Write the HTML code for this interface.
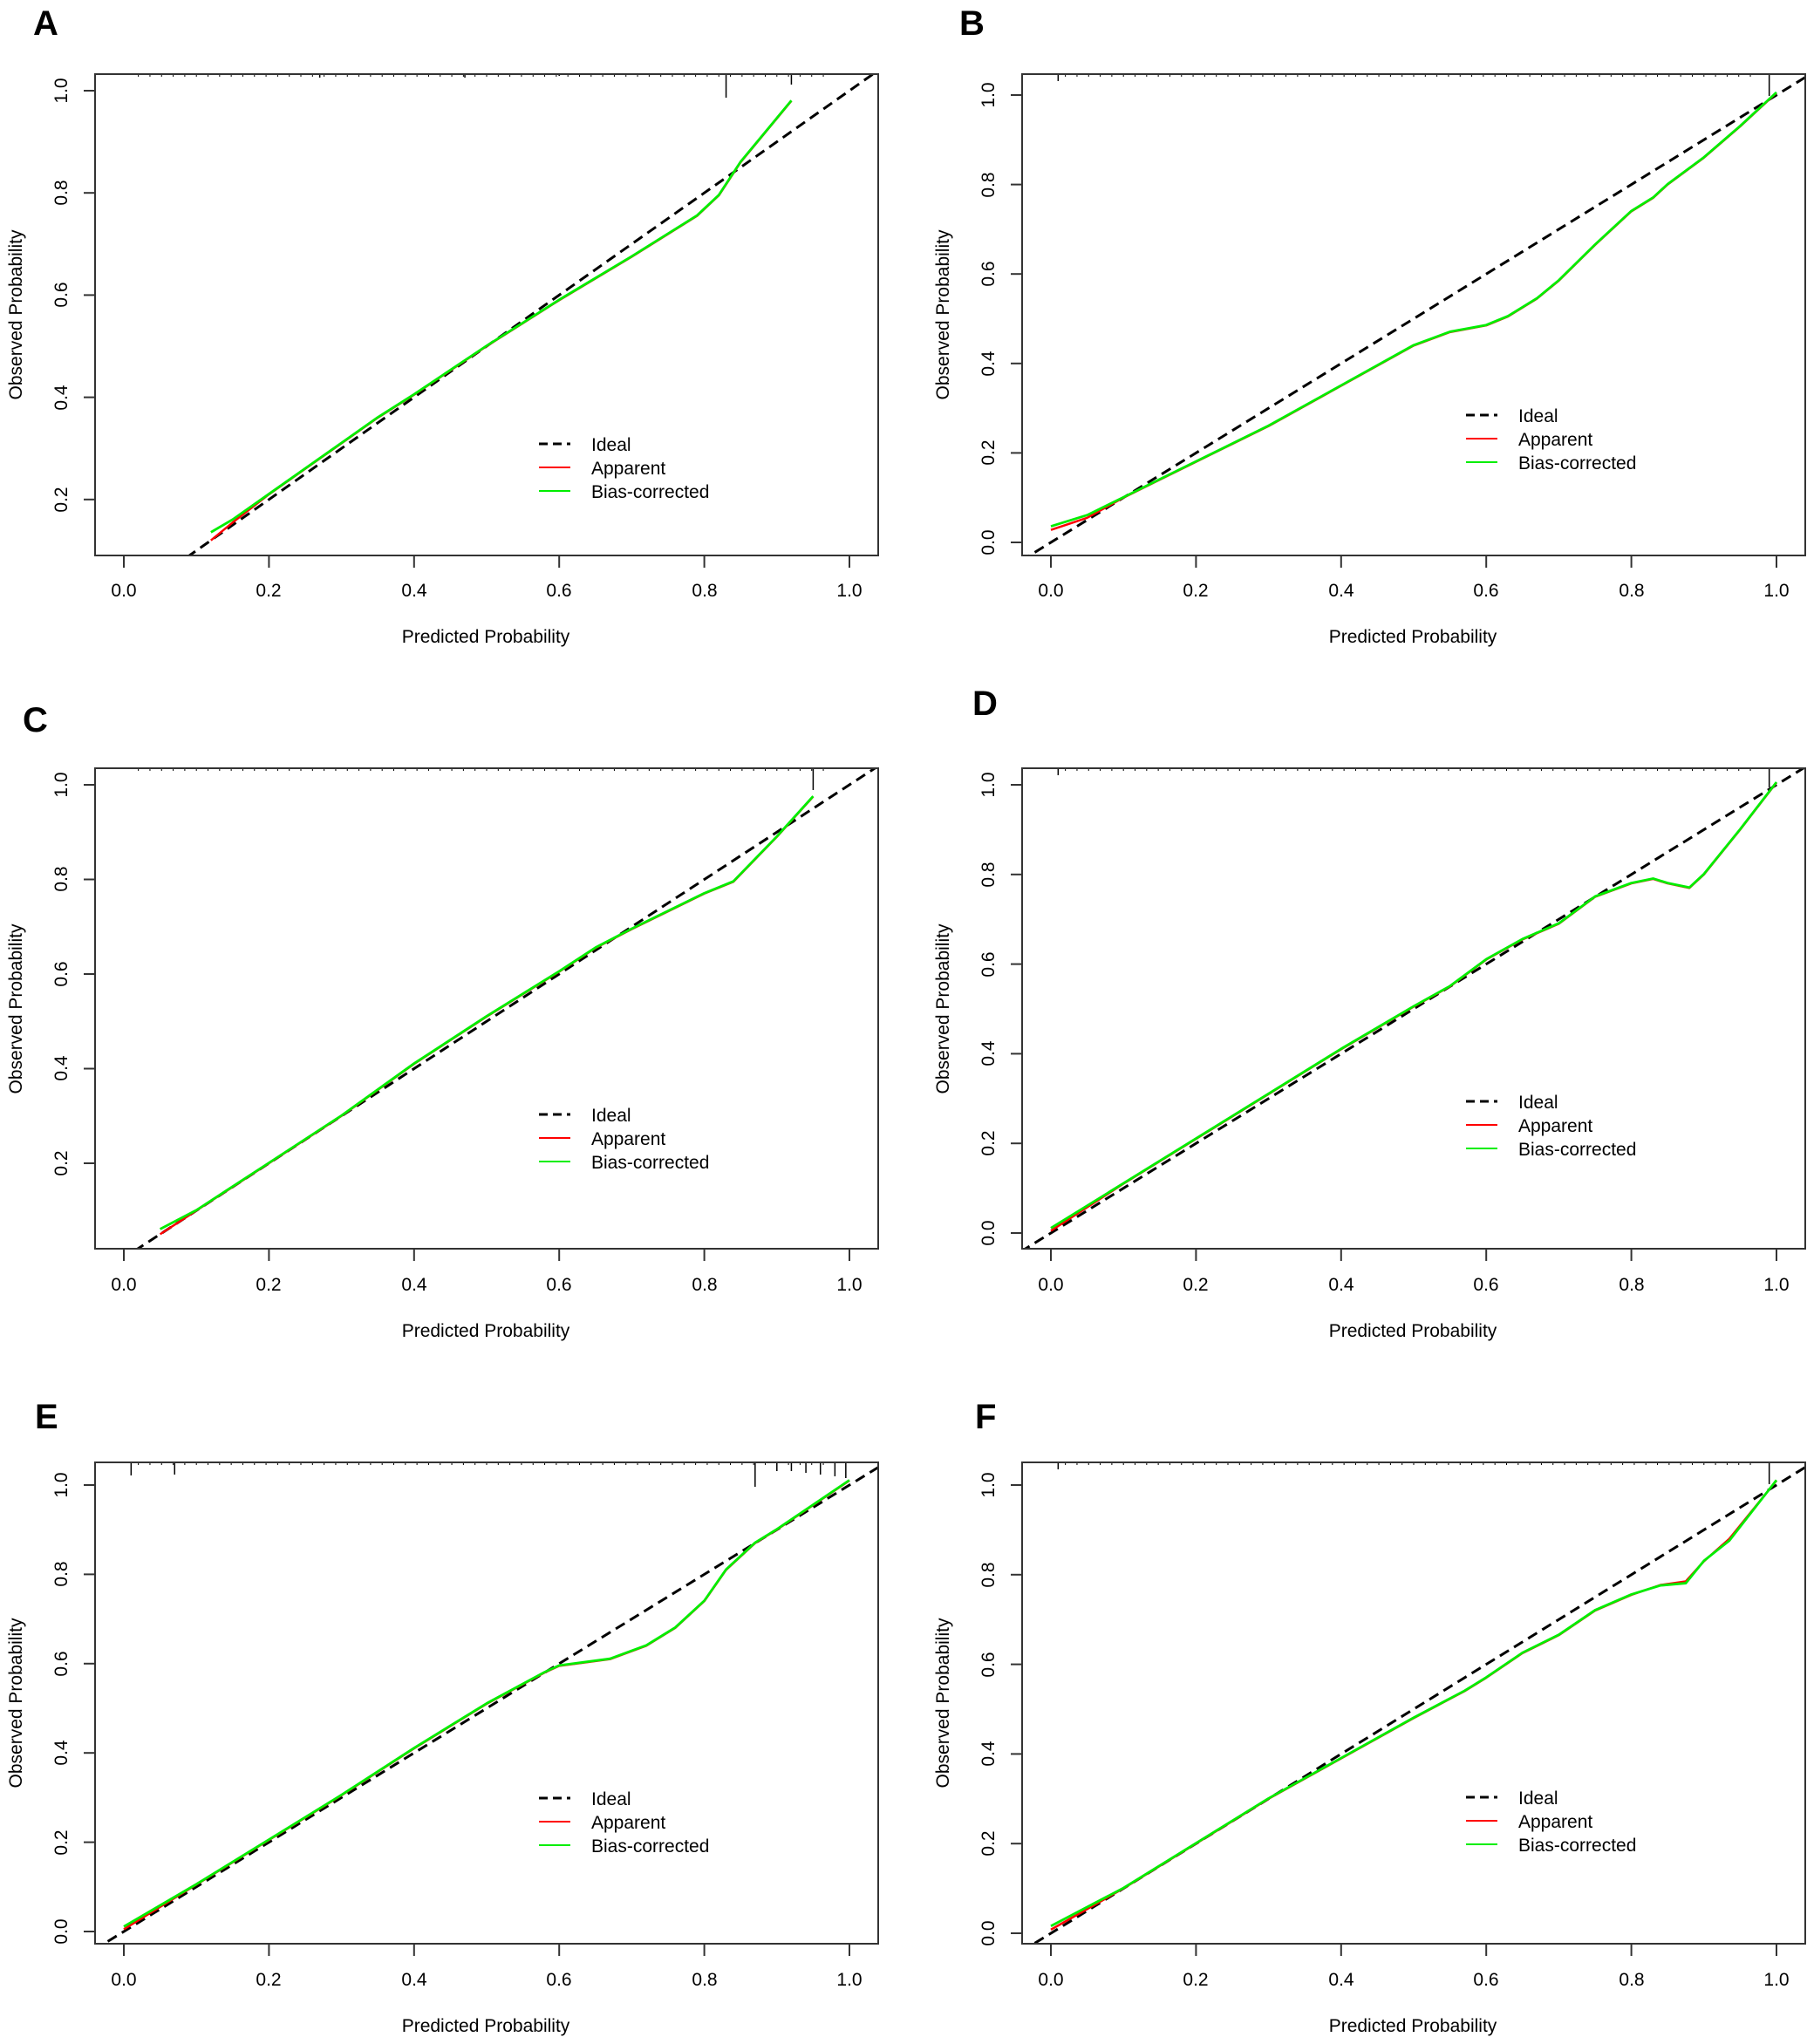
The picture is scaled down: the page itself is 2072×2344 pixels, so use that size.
<!DOCTYPE html>
<html><head><meta charset="utf-8"><style>
html,body{margin:0;padding:0;background:#fff}
svg{display:block}
text{font-family:"Liberation Sans",Arial,sans-serif;fill:#000}
.t{font-size:21px}
.l{font-size:40px;font-weight:bold}
</style></head><body>
<svg id="s" width="2072" height="2344" viewBox="0 0 2072 2344" xmlns="http://www.w3.org/2000/svg">
<g id="plots"></g>
<!-- Panel letters -->
<text class="l" x="38" y="40">A</text>
<text class="l" x="1100" y="40">B</text>
<text class="l" x="26" y="839">C</text>
<text class="l" x="1115" y="820">D</text>
<text class="l" x="40" y="1638">E</text>
<text class="l" x="1118" y="1638">F</text>
<!-- X tick labels -->
<g class="t" text-anchor="middle">
<text x="142" y="684">0.0</text><text x="308" y="684">0.2</text><text x="475" y="684">0.4</text><text x="641" y="684">0.6</text><text x="808" y="684">0.8</text><text x="974" y="684">1.0</text>
<text x="1205" y="684">0.0</text><text x="1371" y="684">0.2</text><text x="1538" y="684">0.4</text><text x="1704" y="684">0.6</text><text x="1871" y="684">0.8</text><text x="2037" y="684">1.0</text>
<text x="142" y="1480">0.0</text><text x="308" y="1480">0.2</text><text x="475" y="1480">0.4</text><text x="641" y="1480">0.6</text><text x="808" y="1480">0.8</text><text x="974" y="1480">1.0</text>
<text x="1205" y="1480">0.0</text><text x="1371" y="1480">0.2</text><text x="1538" y="1480">0.4</text><text x="1704" y="1480">0.6</text><text x="1871" y="1480">0.8</text><text x="2037" y="1480">1.0</text>
<text x="142" y="2277">0.0</text><text x="308" y="2277">0.2</text><text x="475" y="2277">0.4</text><text x="641" y="2277">0.6</text><text x="808" y="2277">0.8</text><text x="974" y="2277">1.0</text>
<text x="1205" y="2277">0.0</text><text x="1371" y="2277">0.2</text><text x="1538" y="2277">0.4</text><text x="1704" y="2277">0.6</text><text x="1871" y="2277">0.8</text><text x="2037" y="2277">1.0</text>
<!-- X titles -->
<text x="557" y="737">Predicted Probability</text><text x="1620" y="737">Predicted Probability</text>
<text x="557" y="1533">Predicted Probability</text><text x="1620" y="1533">Predicted Probability</text>
<text x="557" y="2330">Predicted Probability</text><text x="1620" y="2330">Predicted Probability</text>
<!-- Y titles -->
<text transform="translate(25,361) rotate(-90)">Observed Probability</text>
<text transform="translate(1088,361) rotate(-90)">Observed Probability</text>
<text transform="translate(25,1157) rotate(-90)">Observed Probability</text>
<text transform="translate(1088,1157) rotate(-90)">Observed Probability</text>
<text transform="translate(25,1953) rotate(-90)">Observed Probability</text>
<text transform="translate(1088,1953) rotate(-90)">Observed Probability</text>
<!-- Y tick labels A -->
<text transform="translate(77,573) rotate(-90)">0.2</text><text transform="translate(77,456) rotate(-90)">0.4</text><text transform="translate(77,338) rotate(-90)">0.6</text><text transform="translate(77,221) rotate(-90)">0.8</text><text transform="translate(77,104) rotate(-90)">1.0</text>
<!-- B -->
<text transform="translate(1140,622) rotate(-90)">0.0</text><text transform="translate(1140,519) rotate(-90)">0.2</text><text transform="translate(1140,417) rotate(-90)">0.4</text><text transform="translate(1140,314) rotate(-90)">0.6</text><text transform="translate(1140,212) rotate(-90)">0.8</text><text transform="translate(1140,109) rotate(-90)">1.0</text>
<!-- C -->
<text transform="translate(77,1334) rotate(-90)">0.2</text><text transform="translate(77,1225) rotate(-90)">0.4</text><text transform="translate(77,1117) rotate(-90)">0.6</text><text transform="translate(77,1008) rotate(-90)">0.8</text><text transform="translate(77,900) rotate(-90)">1.0</text>
<!-- D -->
<text transform="translate(1140,1414) rotate(-90)">0.0</text><text transform="translate(1140,1311) rotate(-90)">0.2</text><text transform="translate(1140,1208) rotate(-90)">0.4</text><text transform="translate(1140,1106) rotate(-90)">0.6</text><text transform="translate(1140,1003) rotate(-90)">0.8</text><text transform="translate(1140,900) rotate(-90)">1.0</text>
<!-- E -->
<text transform="translate(77,2215) rotate(-90)">0.0</text><text transform="translate(77,2113) rotate(-90)">0.2</text><text transform="translate(77,2010) rotate(-90)">0.4</text><text transform="translate(77,1908) rotate(-90)">0.6</text><text transform="translate(77,1805) rotate(-90)">0.8</text><text transform="translate(77,1703) rotate(-90)">1.0</text>
<!-- F -->
<text transform="translate(1140,2217) rotate(-90)">0.0</text><text transform="translate(1140,2114) rotate(-90)">0.2</text><text transform="translate(1140,2011) rotate(-90)">0.4</text><text transform="translate(1140,1909) rotate(-90)">0.6</text><text transform="translate(1140,1806) rotate(-90)">0.8</text><text transform="translate(1140,1703) rotate(-90)">1.0</text>
</g>
<!-- Legend texts -->
<g class="t">
<text x="678" y="517">Ideal</text><text x="678" y="544">Apparent</text><text x="678" y="571">Bias-corrected</text>
<text x="1741" y="484">Ideal</text><text x="1741" y="511">Apparent</text><text x="1741" y="538">Bias-corrected</text>
<text x="678" y="1286">Ideal</text><text x="678" y="1313">Apparent</text><text x="678" y="1340">Bias-corrected</text>
<text x="1741" y="1271">Ideal</text><text x="1741" y="1298">Apparent</text><text x="1741" y="1325">Bias-corrected</text>
<text x="678" y="2070">Ideal</text><text x="678" y="2097">Apparent</text><text x="678" y="2124">Bias-corrected</text>
<text x="1741" y="2069">Ideal</text><text x="1741" y="2096">Apparent</text><text x="1741" y="2123">Bias-corrected</text>
</g>
</svg>
<script>
var NS="http://www.w3.org/2000/svg",G=document.getElementById("plots");
function el(t,a){var e=document.createElementNS(NS,t);for(var k in a)e.setAttribute(k,a[k]);G.appendChild(e);return e;}
var P=[
 {L:109,T:85,B:637,y0:690,sy:586,ticks:[.2,.4,.6,.8,1],leg:509,
  c:[[.12,.135],[.15,.16],[.2,.21],[.25,.26],[.3,.31],[.35,.36],[.4,.405],[.5,.5],[.6,.59],[.7,.675],[.79,.755],[.82,.795],[.85,.86],[.92,.98]],
  r:[[.12,.12],[.15,.155]],rug:[[.27,4],[.47,4],[.6,2],[.83,27],[.92,12]]},
 {L:1172,T:85,B:637,y0:622,sy:513,ticks:[0,.2,.4,.6,.8,1],leg:476,
  c:[[0,.035],[.05,.06],[.1,.1],[.15,.14],[.2,.18],[.3,.26],[.4,.35],[.5,.44],[.55,.47],[.6,.485],[.63,.505],[.67,.545],[.7,.585],[.75,.665],[.8,.74],[.83,.77],[.85,.8],[.9,.86],[.95,.93],[1,1.005]],
  r:[[0,.028],[.05,.055]],rug:[[.01,8],[.99,25]]},
 {L:109,T:881,B:1432,y0:1442.5,sy:542.5,ticks:[.2,.4,.6,.8,1],leg:1278,
  c:[[.05,.06],[.1,.1],[.2,.2],[.3,.3],[.4,.41],[.5,.51],[.6,.605],[.65,.655],[.7,.695],[.8,.77],[.84,.795],[.9,.89],[.95,.975]],
  r:[[.05,.05],[.08,.075]],rug:[[.95,25]]},
 {L:1172,T:881,B:1432,y0:1414,sy:514,ticks:[0,.2,.4,.6,.8,1],leg:1263,
  c:[[0,.01],[.1,.11],[.2,.21],[.3,.31],[.4,.41],[.5,.505],[.55,.55],[.6,.61],[.65,.655],[.7,.69],[.75,.75],[.8,.78],[.83,.79],[.85,.78],[.88,.77],[.9,.8],[.95,.9],[1,1.005]],
  r:[[0,.005],[.05,.055]],rug:[[.01,8],[.99,22]]},
 {L:109,T:1677,B:2229,y0:2215,sy:512,ticks:[0,.2,.4,.6,.8,1],leg:2062,
  c:[[0,.01],[.1,.105],[.2,.205],[.3,.305],[.4,.41],[.45,.46],[.5,.51],[.58,.58],[.6,.595],[.67,.61],[.72,.64],[.76,.68],[.8,.74],[.83,.81],[.87,.87],[.9,.9],[1,1.01]],
  r:[[0,.005]],rug:[[.01,15],[.07,14],[.87,28],[.9,10],[.92,10],[.94,12],[.96,14],[.98,16],[.995,18]]},
 {L:1172,T:1677,B:2229,y0:2217,sy:514,ticks:[0,.2,.4,.6,.8,1],leg:2061,
  c:[[0,.015],[.1,.1],[.2,.2],[.3,.3],[.4,.39],[.5,.48],[.57,.54],[.6,.57],[.65,.625],[.7,.665],[.75,.72],[.8,.755],[.84,.775],[.875,.78],[.9,.83],[.935,.875],[1,1.01]],
  r:[[0,.008],[.84,.777],[.875,.785],[.935,.88]],rug:[[.01,8],[.99,25]]}
];
P.forEach(function(p,i){
  var R=p.L+898, x0=p.L+33, sx=832;
  function X(v){return x0+sx*v} function Y(v){return p.y0-p.sy*v}
  var cid="c"+i, cp=el("clipPath",{id:cid});
  var rr=document.createElementNS(NS,"rect");rr.setAttribute("x",p.L);rr.setAttribute("y",p.T);rr.setAttribute("width",898);rr.setAttribute("height",p.B-p.T);cp.appendChild(rr);
  // rug
  for(var k=0;k<60;k++){var v=0.02+k*0.016;el("line",{x1:X(v),y1:p.T,x2:X(v),y2:p.T+3,stroke:"#000","stroke-width":1});}
  p.rug.forEach(function(r){el("line",{x1:X(r[0]),y1:p.T,x2:X(r[0]),y2:p.T+r[1],stroke:"#000","stroke-width":1.5});});
  // diagonal
  var g=el("g",{"clip-path":"url(#"+cid+")"});
  function add(t,a){var e=document.createElementNS(NS,t);for(var k in a)e.setAttribute(k,a[k]);g.appendChild(e);return e;}
  add("line",{x1:X(-0.1),y1:Y(-0.1),x2:X(1.1),y2:Y(1.1),stroke:"#000","stroke-width":3,"stroke-dasharray":"12,7"});
  var rp=p.c.map(function(q){return q.slice()});
  p.r.forEach(function(q){for(var j=0;j<rp.length;j++)if(Math.abs(rp[j][0]-q[0])<1e-6)rp[j][1]=q[1];});
  add("polyline",{points:rp.map(function(q){return X(q[0])+","+Y(q[1])}).join(" "),fill:"none",stroke:"#ff0000","stroke-width":2.5,"stroke-linejoin":"round"});
  add("polyline",{points:p.c.map(function(q){return X(q[0])+","+(Y(q[1])-0.5)}).join(" "),fill:"none",stroke:"#00ee00","stroke-width":2.8,"stroke-linejoin":"round"});
  // box
  el("rect",{x:p.L,y:p.T,width:898,height:p.B-p.T,fill:"none",stroke:"#333","stroke-width":2});
  // x ticks
  for(var t=0;t<=5;t++)el("line",{x1:X(t/5),y1:p.B,x2:X(t/5),y2:p.B+14,stroke:"#333","stroke-width":2});
  p.ticks.forEach(function(v){el("line",{x1:p.L-13,y1:Y(v),x2:p.L,y2:Y(v),stroke:"#333","stroke-width":2});});
  // legend lines
  var lx=p.L+509;
  el("line",{x1:lx,y1:p.leg,x2:lx+36,y2:p.leg,stroke:"#000","stroke-width":3,"stroke-dasharray":"10,6"});
  el("line",{x1:lx,y1:p.leg+27,x2:lx+36,y2:p.leg+27,stroke:"#ff0000","stroke-width":2});
  el("line",{x1:lx,y1:p.leg+54,x2:lx+36,y2:p.leg+54,stroke:"#00ee00","stroke-width":2});
});
</script>
</body></html>
